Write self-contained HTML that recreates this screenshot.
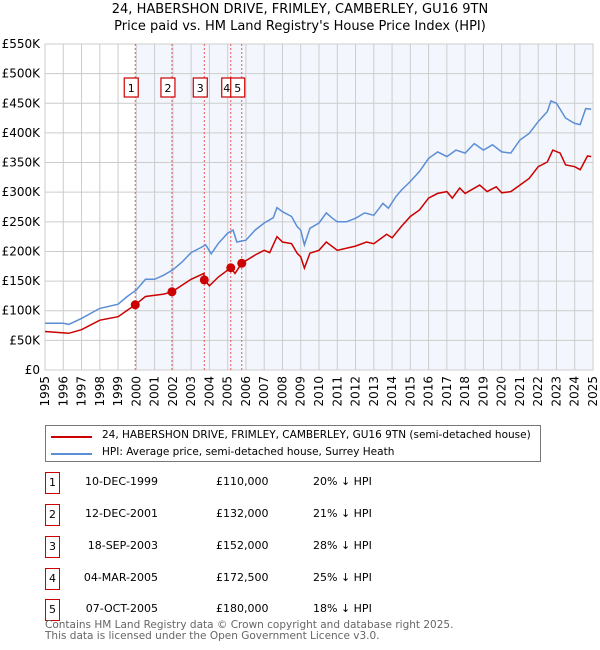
<!DOCTYPE html>
<html><head><meta charset="utf-8"><style>
body{margin:0;background:#fff;font-family:"DejaVu Sans","Liberation Sans",sans-serif;}
#wrap{position:relative;width:600px;height:650px;overflow:hidden}
.t{position:absolute;font-size:12px;color:#000;white-space:nowrap}
.box{position:absolute;border:1.3px solid #c00;width:14px;height:19px;box-sizing:border-box;font-size:11px;text-align:center;line-height:17px}
</style></head><body><div id="wrap">
<div class="t" style="left:0;width:600px;text-align:center;top:2px;font-size:13px">24, HABERSHON DRIVE, FRIMLEY, CAMBERLEY, GU16 9TN</div>
<div class="t" style="left:0;width:600px;text-align:center;top:19px;font-size:13px">Price paid vs. HM Land Registry's House Price Index (HPI)</div>
<svg id="chart" width="600" height="420" style="position:absolute;left:0;top:0"></svg>
<div style="position:absolute;left:45px;top:425px;width:496px;height:37px;border:1px solid #777;box-sizing:border-box">
<div style="position:absolute;left:5px;top:10px;width:41px;height:2px;background:#c00"></div>
<div class="t" style="left:56px;top:3px;font-size:10.5px">24, HABERSHON DRIVE, FRIMLEY, CAMBERLEY, GU16 9TN (semi-detached house)</div>
<div style="position:absolute;left:5px;top:27px;width:41px;height:2px;background:#5b8ed6"></div>
<div class="t" style="left:56px;top:20px;font-size:10.5px">HPI: Average price, semi-detached house, Surrey Heath</div>
</div>
<div id="table"></div>
<div class="t" style="left:45px;top:620px;font-size:10.5px;color:#666;line-height:11px">Contains HM Land Registry data © Crown copyright and database right 2025.<br>This data is licensed under the Open Government Licence v3.0.</div>
</div>
<script>
const hpiYears=[1995,1996,1996.3,1997,1998,1999,1999.5,2000,2000.5,2001,2001.5,2002,2002.5,2003,2003.5,2003.8,2004.1,2004.5,2005,2005.3,2005.5,2006,2006.5,2007,2007.5,2007.7,2008,2008.5,2008.8,2009,2009.2,2009.5,2010,2010.4,2010.7,2011,2011.5,2012,2012.5,2013,2013.5,2013.8,2014.2,2014.5,2015,2015.5,2016,2016.5,2017,2017.5,2018,2018.5,2019,2019.5,2020,2020.5,2021,2021.5,2022,2022.5,2022.7,2023,2023.5,2024,2024.3,2024.6,2024.9];
const hpiValues=[79,79,77,87,104,111,124,135,153,153,160,169,182,198,206,211,196,214,231,236,216,219,236,248,257,274,267,259,242,236,211,239,248,265,257,250,250,256,265,261,281,273,292,303,318,335,357,368,360,371,366,382,371,380,368,366,388,399,419,436,454,450,425,416,414,441,440];
const priceYears=[1995,1996.3,1997,1998,1999,1999.94,2000.5,2001.5,2001.95,2002.5,2003,2003.7,2003.72,2004,2004.5,2005.17,2005.4,2005.77,2006.5,2007,2007.3,2007.7,2008,2008.5,2008.8,2009,2009.2,2009.5,2010,2010.4,2011,2012,2012.6,2013,2013.7,2014,2014.5,2015,2015.5,2016,2016.5,2017,2017.3,2017.7,2018,2018.8,2019.2,2019.7,2020,2020.5,2021,2021.5,2022,2022.5,2022.8,2023.2,2023.5,2024,2024.3,2024.7,2024.9];
const priceValues=[65,62,68,84,90,110,124,128,132,143,153,163,152,142,157,172.5,163,180,194,202,198,225,216,213,197,191,172,197,202,216,202,209,216,213,229,223,242,259,270,290,298,301,290,307,298,312,301,309,299,301,312,323,343,351,371,366,346,343,338,361,360];
const saleYears=[1999.94,2001.95,2003.72,2005.17,2005.77];
const salePrices=[110,132,152,172.5,180];
const saleLabels=["1","2","3","4","5"];
const saleDates=["10-DEC-1999","12-DEC-2001","18-SEP-2003","04-MAR-2005","07-OCT-2005"];
const salePriceText=["£110,000","£132,000","£152,000","£172,500","£180,000"];
const saleHpiText=["20% ↓ HPI","21% ↓ HPI","28% ↓ HPI","25% ↓ HPI","18% ↓ HPI"];
const yTicks=[0,50,100,150,200,250,300,350,400,450,500,550];
const yTickLabels=["£0","£50K","£100K","£150K","£200K","£250K","£300K","£350K","£400K","£450K","£500K","£550K"];
const xTicks=[1995,1996,1997,1998,1999,2000,2001,2002,2003,2004,2005,2006,2007,2008,2009,2010,2011,2012,2013,2014,2015,2016,2017,2018,2019,2020,2021,2022,2023,2024,2025];

const X0=45,X1=593,Y0=370,Y1=44;
const xs=y=>X0+(y-1995)/30*(X1-X0);
const ys=v=>Y0-v/550*(Y0-Y1);
const NS="http://www.w3.org/2000/svg";
const svg=document.getElementById('chart');
function mk(tag,attrs,name,parent){const e=document.createElementNS(NS,tag);for(const k in attrs)e.setAttribute(k,attrs[k]);


(parent||svg).appendChild(e);return e;}
mk('rect',{x:X0,y:Y1,width:X1-X0,height:Y0-Y1,fill:'#fff'},'plot-background');
mk('rect',{x:xs(saleYears[0]),y:Y1,width:X1-xs(saleYears[0]),height:Y0-Y1,fill:'#eef3fc',opacity:0.7},'shaded-region');
yTicks.forEach((v,i)=>{
 mk('line',{x1:X0,x2:X1,y1:ys(v),y2:ys(v),stroke:'#ccc','stroke-width':1},'y-gridline');
 const t=mk('text',{x:X0-5,y:ys(v)+4,'text-anchor':'end','font-size':12,fill:'#000'},'y-tick-label');t.textContent=yTickLabels[i];
});
xTicks.forEach(y=>{
 mk('line',{x1:xs(y),x2:xs(y),y1:Y1,y2:Y0,stroke:'#ccc','stroke-width':1},'x-gridline');
 const t=mk('text',{x:0,y:0,'text-anchor':'end','font-size':12,fill:'#000',transform:`translate(${xs(y)+4},${Y0+6}) rotate(-90)`},'x-tick-label');t.textContent=y;
});
mk('rect',{x:X0,y:Y1,width:X1-X0,height:Y0-Y1,fill:'none',stroke:'#ccc'},'plot-border');
saleYears.forEach((y,i)=>{
 mk('line',{x1:xs(y),x2:xs(y),y1:Y1,y2:Y0,stroke:'#e55','stroke-width':1,'stroke-dasharray':'2,2'},'sale-marker-line');
});
const path=(xa,va)=>xa.map((y,i)=>(i?'L':'M')+xs(y).toFixed(1)+','+ys(va[i]).toFixed(1)).join('');
mk('path',{d:path(hpiYears,hpiValues),fill:'none',stroke:'#5b8ed6','stroke-width':1.5},'hpi-line');
mk('path',{d:path(priceYears,priceValues),fill:'none',stroke:'#c00','stroke-width':1.5},'price-line');
saleYears.forEach((y,i)=>{
 mk('circle',{cx:xs(y),cy:ys(salePrices[i]),r:4.5,fill:'#c00'},'sale-point');
 let bx=xs(y)-11,w=14;
 if(i===3){bx=xs(saleYears[4])-10-10;w=10;}
 mk('rect',{x:bx,y:78,width:w,height:19,fill:'#fff',stroke:'#c00','stroke-width':1.2},'sale-label-box');
 const t=mk('text',{x:bx+w/2,y:92,'text-anchor':'middle','font-size':11,fill:'#000'},'sale-label');t.textContent=saleLabels[i];
});
const tb=document.getElementById('table');
const rowY=[482,514,546,578,609];
saleLabels.forEach((l,i)=>{
 const r=document.createElement('div');
 
 
 r.style.cssText=`position:absolute;left:0;top:${rowY[i]-10}px;width:600px;height:22px`;
 r.innerHTML=`<div class="box" style="left:45px;top:0;width:15px;height:22px;line-height:20px">${l}</div>
<div class="t" style="right:442px;top:3px;font-size:11px">${saleDates[i]}</div>
<div class="t" style="left:216px;top:3px;font-size:11px">${salePriceText[i]}</div>
<div class="t" style="left:313px;top:3px;font-size:11px">${saleHpiText[i]}</div>`;
 tb.appendChild(r);
});
</script></body></html>
